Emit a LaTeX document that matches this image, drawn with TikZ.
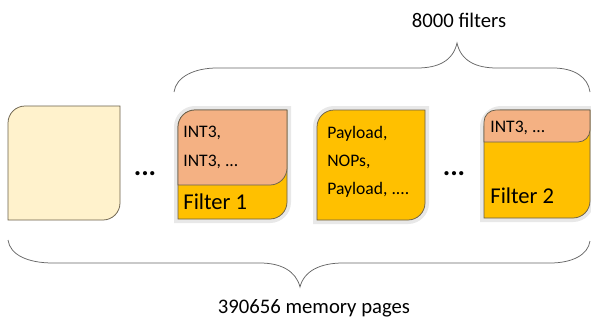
\documentclass[tikz,border=0pt]{standalone}
\usepackage{fontspec}
\setmainfont{Carlito}

\definecolor{pagecream}{RGB}{255,242,204}
\definecolor{pageorange}{RGB}{255,192,0}
\definecolor{pagesalmon}{RGB}{244,177,131}
\definecolor{pageline}{RGB}{105,95,75}

\tikzset{every picture/.style={line width=0.75pt}}
\tikzset{
  pagetext/.style={anchor=base west,inner sep=0pt,font=\fontsize{17.6}{21}\selectfont},
  filtertext/.style={anchor=base west,inner sep=0pt,font=\fontsize{22.6}{27}\selectfont},
  bracetext/.style={anchor=base,inner sep=0pt,font=\fontsize{20.7}{25}\selectfont},
  gapdots/.style={anchor=base,inner sep=0pt,font=\bfseries\fontsize{28}{32}\selectfont},
  glow/.style={draw=black!9,line width=8pt},
}

% page with round top-left and bottom-right corners: {x1}{y1}{x2}{y2}{radius}
\newcommand{\diagpage}[6][]{%
  \draw[#1] (#2,#5) -- (#2,{#3+#6}) .. controls (#2,{#3+0.45*#6}) and ({#2+0.45*#6},#3) .. ({#2+#6},#3)
    -- (#4,#3) -- (#4,{#5-#6}) .. controls (#4,{#5-0.45*#6}) and ({#4-0.45*#6},#5) .. ({#4-#6},#5) -- cycle ;}

\begin{document}
\begin{tikzpicture}[x=1pt,y=1pt,yscale=-1,xscale=1]
		\useasboundingbox (0,0) rectangle (591,322);
		
		%Shape: plain page
		\diagpage[fill=pagecream,draw=pageline]{8}{106}{120}{220}{17}
		%Shape: Filter 1 page
		\diagpage[glow]{178}{110}{287}{219}{17}
		\diagpage[fill=pageorange,draw=pageline]{178}{110}{287}{219}{17}
		\diagpage[fill=pagesalmon,draw=pageline]{178}{110}{287}{185}{17}
		%Shape: payload page
		\diagpage[glow]{317}{110}{425}{220}{17}
		\diagpage[fill=pageorange,draw=pageline]{317}{110}{425}{220}{17}
		%Shape: Filter 2 page
		\diagpage[glow]{484}{110}{590}{218}{17}
		\diagpage[fill=pageorange,draw=pageline]{484}{110}{590}{218}{17}
		\diagpage[fill=pagesalmon,draw=pageline]{484}{110}{590}{142}{12}
		
		%Shape: upper brace
		\draw [color=black!60]  (174,92) .. controls (176,77) and (194,68) .. (217,68) -- (417,68) .. controls (438,68) and (453,61) .. (457,43) .. controls (461,61) and (476,68) .. (497,68) -- (553,68) .. controls (574,68) and (588,77) .. (590,92) ;
		%Shape: lower brace
		\draw [color=black!60]  (8,240) .. controls (10,255) and (28,263) .. (53,263) -- (260,263) .. controls (281,263) and (296,271) .. (300,287) .. controls (304,271) and (320,263) .. (343,263) -- (550,263) .. controls (572,263) and (588,255) .. (590,241) ;
		
		\draw (183,137) node [pagetext] (int1) {INT3,};
		\draw (183,166) node [pagetext] (int2) {INT3, ...};
		\draw (183,209) node [filtertext] (filt1) {Filter 1};
		\draw (327,138) node [pagetext] (pay1) {Payload,};
		\draw (327,166) node [pagetext] (nops) {NOPs,};
		\draw (327,194) node [pagetext] (pay2) {Payload, ....};
		\draw (490,132) node [pagetext] (int3) {INT3, ...};
		\draw (490,203) node [filtertext] (filt2) {Filter 2};
		\draw (145,175) node [gapdots] (dotsa) {...};
		\draw (454,175) node [gapdots] (dotsb) {...};
		\draw (459,27) node [bracetext] (nfilt) {8000 filters};
		\draw (314,313) node [bracetext] (npages) {390656 memory pages};
		
	\end{tikzpicture}
\end{document}
